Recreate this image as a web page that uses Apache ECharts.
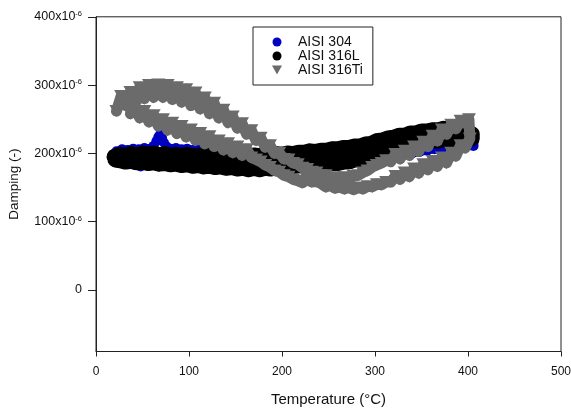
<!DOCTYPE html>
<html>
<head>
<meta charset="utf-8">
<script src="https://cdn.jsdelivr.net/npm/echarts@6/dist/echarts.min.js"></script>
<style>
html,body{margin:0;padding:0;background:#fff;}
#c{width:571px;height:408px;}
</style>
</head>
<body>
<div id="c"></div>
<script>
// Temperature (°C), Damping (x10^-6)
const seriesNames = ['AISI 304', 'AISI 316L', 'AISI 316Ti'];
const xTicks = [0, 100, 200, 300, 400, 500];
const yTicks = [0, 100, 200, 300, 400];

// AISI 304 (blue) – heating and cooling branches
const aisi304Up = [[22,203],[28,206],[34,205],[40,207],[46,206],[52,208],[58,207],[62,211],[65,218],[67,224],[69,228],[71,223],[73,216],[76,210],[80,207],[86,208],[92,206],[98,207],[104,205],[110,206],[116,204],[122,205],[128,203],[134,204],[140,202],[146,203],[152,201],[158,200],[164,198],[170,197],[176,195],[182,193],[188,192],[194,191],[200,190],[210,190],[220,191],[230,192],[240,193],[250,195],[260,197],[270,199],[280,201],[290,203],[300,206],[310,209],[320,212],[330,215],[340,217],[350,219],[360,221],[370,222],[380,222],[390,221],[398,219],[406,216]];
const aisi304Down = [[406,211],[396,210],[388,209],[380,208],[372,207],[364,206],[356,204],[348,202],[340,200],[330,198],[320,196],[310,194],[300,192],[290,190],[280,188],[270,186],[260,185],[250,184],[240,183],[230,182],[220,182],[210,181],[200,181],[190,181],[180,181],[170,181],[160,182],[150,182],[140,183],[130,184],[120,185],[110,186],[100,186],[90,187],[80,187],[70,187],[60,186],[54,183],[48,181],[42,183],[36,186],[30,189],[22,194]];

// AISI 316L (black)
const aisi316LUp = [[20,195],[26,198],[32,196],[38,199],[44,197],[50,200],[56,198],[62,200],[68,197],[74,199],[80,196],[86,198],[92,196],[98,198],[104,195],[110,197],[116,195],[122,197],[128,195],[134,197],[140,195],[146,197],[152,195],[158,197],[164,195],[170,197],[176,196],[182,198],[188,197],[194,199],[200,198],[206,200],[212,199],[218,201],[224,201],[230,203],[236,202],[242,204],[248,204],[254,206],[260,206],[266,208],[272,208],[278,210],[284,210],[290,213],[296,214],[302,218],[308,219],[314,222],[320,223],[326,226],[332,226],[338,229],[344,229],[350,232],[356,232],[362,234],[368,234],[374,236],[380,235],[386,236],[392,234],[398,232],[404,228]];
const aisi316LDown = [[404,222],[398,222],[392,221],[386,222],[380,220],[374,221],[368,219],[362,219],[356,217],[350,216],[344,214],[338,213],[332,210],[326,209],[320,206],[314,204],[308,201],[302,199],[296,196],[290,195],[284,192],[278,191],[272,188],[266,188],[260,186],[254,186],[248,184],[242,185],[236,183],[230,184],[224,182],[218,183],[212,181],[206,182],[200,180],[194,180],[188,178],[182,179],[176,177],[170,179],[164,177],[158,179],[152,178],[146,180],[140,179],[134,181],[128,180],[122,182],[116,181],[110,183],[104,182],[98,184],[92,183],[86,185],[80,184],[74,186],[68,185],[62,187],[56,186],[50,188],[44,187],[38,189],[32,188],[26,190],[21,191]];

// AISI 316Ti (grey)
const aisi316TiUp = [[22,262],[27,284],[32,270],[37,290],[42,276],[47,297],[52,280],[57,300],[62,282],[67,301],[72,282],[77,300],[82,279],[87,297],[92,275],[97,294],[102,270],[107,289],[112,265],[117,282],[122,258],[127,274],[132,252],[137,264],[142,245],[147,254],[152,237],[157,244],[162,228],[167,234],[172,219],[177,223],[182,209],[187,212],[192,200],[197,201],[202,192],[207,191],[212,186],[217,184],[222,179],[227,177],[232,173],[237,172],[242,168],[247,168],[252,164],[257,165],[262,163],[267,165],[272,164],[277,167],[282,168],[287,172],[292,175],[297,180],[302,183],[307,186],[312,190],[317,188],[322,199],[327,192],[332,204],[337,197],[342,210],[347,203],[352,217],[357,210],[362,226],[367,218],[372,235],[377,228],[382,242],[387,236],[392,248],[397,244],[401,250]];
const aisi316TiDown = [[402,222],[397,208],[392,212],[387,196],[382,201],[377,186],[372,194],[367,181],[362,189],[357,176],[352,184],[347,171],[342,178],[337,166],[332,172],[327,162],[322,167],[317,158],[312,158],[307,154],[302,155],[297,151],[292,152],[287,148],[282,150],[277,147],[272,150],[267,148],[262,151],[257,149],[252,153],[247,151],[242,156],[237,159],[232,158],[227,162],[222,157],[217,160],[212,162],[207,166],[202,168],[197,173],[192,175],[187,180],[182,183],[177,188],[172,191],[167,194],[162,206],[157,197],[152,210],[147,201],[142,215],[137,205],[132,219],[127,210],[122,225],[117,214],[112,230],[107,219],[102,235],[97,224],[92,240],[87,229],[82,245],[77,234],[72,250],[67,240],[62,256],[57,246],[52,262],[47,252],[42,266],[37,258]];

const FONT = 'Liberation Sans, Arial, sans-serif';
const triDown = 'path://M0,0L10,0L5,9Z';

function loopSeries(name, data, color, symbol, size, width, z) {
  return {
    name: name, type: 'line', data: data, z: z,
    symbol: symbol, symbolSize: size, showSymbol: true,
    itemStyle: {color: color, opacity: 1, borderWidth: 0},
    lineStyle: {color: color, width: width, cap: 'round', join: 'round'},
    emphasis: {disabled: true}, silent: true, clip: true
  };
}

const chart = echarts.init(document.getElementById('c'), null, {renderer: 'canvas'});
chart.setOption({
  animation: false,
  backgroundColor: '#fff',
  grid: {left: 96, right: 10, top: 16.8, bottom: 56.5, outerBoundsMode: 'none', containLabel: false,
         show: true, borderColor: '#222', borderWidth: 1, backgroundColor: 'transparent'},
  legend: {
    orient: 'vertical', left: 253, top: 27, z: 10,
    padding: [8, 10, 8, 19], itemGap: 0, itemWidth: 32, itemHeight: 9,
    borderColor: '#222', borderWidth: 1, backgroundColor: '#fff',
    textStyle: {fontFamily: FONT, fontSize: 14, lineHeight: 13, color: '#111'},
    data: [
      {name: seriesNames[0], icon: 'circle', itemStyle: {color: '#0000c0'}},
      {name: seriesNames[1], icon: 'circle', itemStyle: {color: '#000000'}},
      {name: seriesNames[2], icon: triDown, itemStyle: {color: '#6b6b6b'}}
    ]
  },
  xAxis: {
    type: 'value', min: xTicks[0], max: xTicks[xTicks.length - 1], interval: 100,
    name: 'Temperature (°C)', nameLocation: 'middle', nameGap: 41,
    nameTextStyle: {fontFamily: FONT, fontSize: 15, color: '#111'},
    axisLine: {show: true, onZero: false, lineStyle: {color: '#222', width: 1}},
    axisTick: {show: true, inside: false, length: 5, lineStyle: {color: '#222'}},
    axisLabel: {fontFamily: FONT, fontSize: 12, color: '#111', margin: 14},
    splitLine: {show: false}
  },
  yAxis: {
    type: 'value', min: -90, max: 400,
    name: 'Damping (-)', nameLocation: 'middle', nameRotate: 90, nameGap: 75,
    nameTextStyle: {fontFamily: FONT, fontSize: 13.5, color: '#111'},
    axisLine: {show: true, onZero: false, lineStyle: {color: '#222', width: 1}},
    axisTick: {show: true, inside: false, length: 8, customValues: yTicks, lineStyle: {color: '#222'}},
    axisLabel: {
      customValues: yTicks, margin: 14,
      formatter: function (v) { return v === 0 ? '{a|0}' : '{a|' + v + 'x10}{s|-6}'; },
      rich: {
        a: {fontFamily: FONT, fontSize: 12.5, color: '#111', lineHeight: 14},
        s: {fontFamily: FONT, fontSize: 7.5, color: '#111', verticalAlign: 'top', lineHeight: 8}
      }
    },
    splitLine: {show: false}
  },
  series: [
    loopSeries(seriesNames[0], aisi304Up.concat(aisi304Down), '#0000c0', 'circle', 10, 8, 2),
    loopSeries(seriesNames[1], aisi316LUp.concat(aisi316LDown), '#000000', 'circle', 15, 16, 3),
    loopSeries(seriesNames[2], aisi316TiUp.concat(aisi316TiDown), '#6b6b6b', triDown, [14, 12], 11, 4)
  ]
});
</script>
</body>
</html>
